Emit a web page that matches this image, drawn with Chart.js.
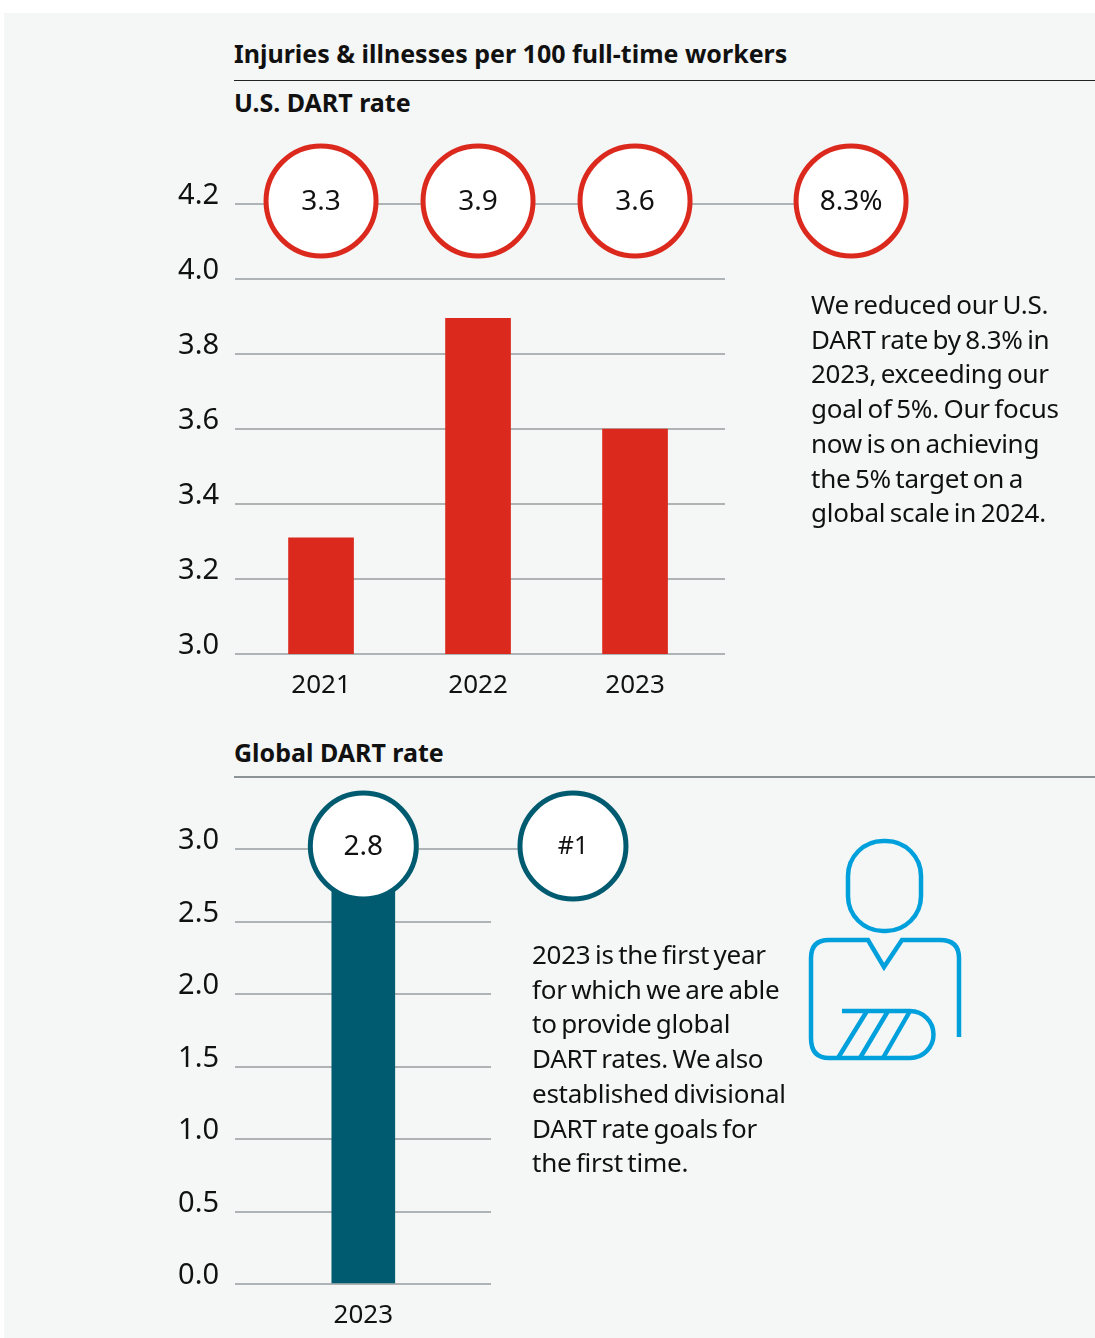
<!DOCTYPE html>
<html>
<head>
<meta charset="utf-8">
<script src="https://cdn.jsdelivr.net/npm/chart.js@4"></script>
<style>
  html, body { margin: 0; padding: 0; background: #fff; }
  body { width: 1095px; height: 1338px; position: relative; overflow: hidden; font-family: "Noto Sans", sans-serif; color: #111; }
  #panel { position: absolute; left: 4px; top: 13px; width: 1091px; height: 1325px; background: #f5f7f6; }
  canvas { position: absolute; left: 0; }
  .head { position: absolute; left: 234px; font-weight: 700; font-size: 25px; line-height: 30px; white-space: nowrap; }
  .rule { position: absolute; left: 234px; right: 0; }
  .note { position: absolute; font-size: 26px; line-height: 34.7px; letter-spacing: -0.25px; word-spacing: -2px; white-space: nowrap; }
  #icon { position: absolute; left: 790px; top: 820px; }
</style>
</head>
<body>
<div id="panel"></div>
<canvas id="usChart" width="1095" height="600" style="top:130px"></canvas>
<canvas id="globalChart" width="1095" height="558" style="top:780px"></canvas>

<div class="head" style="top:38px">Injuries &amp; illnesses per 100 full-time workers</div>
<div class="rule" style="top:80px;height:1px;background:#222"></div>
<div class="head" style="top:87px">U.S. DART rate</div>
<div class="head" style="top:737px">Global DART rate</div>
<div class="rule" style="top:776px;height:1.5px;background:#8d9496"></div>

<div class="note" style="left:811px;top:287px">We reduced our U.S.<br>DART rate by 8.3% in<br>2023, exceeding our<br>goal of 5%. Our focus<br>now is on achieving<br>the 5% target on a<br>global scale in 2024.</div>
<div class="note" style="left:532px;top:937px">2023 is the first year<br>for which we are able<br>to provide global<br>DART rates. We also<br>established divisional<br>DART rate goals for<br>the first time.</div>

<svg id="icon" width="190" height="260" viewBox="790 820 190 260" fill="none" stroke="#00a0dc" stroke-width="4.5">
  <rect x="848" y="841" width="73" height="90" rx="35" ry="35"/>
  <path d="M959 1037V958Q959 940 940 940H902L884 967L868 940H829Q811 940 811 958V1038Q811 1058 829 1058H910A23.5 23.5 0 0 0 910 1011H842"/>
  <path d="M867 1011L838 1058M888 1011L860 1058M910 1011L883 1058"/>
</svg>

<script>
const usYears = [2021, 2022, 2023];
const usRates = [3.31, 3.895, 3.6];
const usBadges = ['3.3', '3.9', '3.6', '8.3%'];
const usBadgeX = [2021, 2022, 2023, 2024.376];
const usTicks = [3.0, 4.2, 0.2];

const globalYears = [2023];
const globalRates = [2.8];
const globalBadges = ['2.8', '#1'];
const globalBadgeX = [2023, 2024];
const globalTicks = [0, 3, 0.5];

const FONT = '"Noto Sans", sans-serif';
const RED = '#dc291e';
const TEAL = '#005b70';
const GRID = '#aeb4b5';

// writes the value inside each round badge
const badgeText = {
  id: 'badgeText',
  afterDatasetsDraw(chart, args, opts) {
    const { ctx, chartArea } = chart;
    const meta = chart.getDatasetMeta(2);
    ctx.save();
    ctx.fillStyle = '#111';
    ctx.textAlign = 'center';
    ctx.textBaseline = 'middle';
    meta.data.forEach((pt, i) => {
      // chart.js skips points outside the chart area, so the last badge is drawn here
      if (pt.x > chartArea.right) {
        pt.draw(ctx);
      }
      const txt = opts.labels[i];
      ctx.fillStyle = '#111';
      ctx.font = (txt[0] === '#' ? 25 : 28) + 'px ' + FONT;
      ctx.fillText(txt, pt.x, pt.y + 1);
    });
    ctx.restore();
  }
};

function makeChart(id, cfg) {
  const [yMin, yMax, yStep] = cfg.yTicks;
  return new Chart(document.getElementById(id), {
    data: {
      datasets: [
        {
          type: 'bar',
          data: cfg.years.map((y, i) => ({ x: y, y: cfg.rates[i] })),
          backgroundColor: cfg.color,
          barThickness: cfg.barWidth,
          order: 3
        },
        {
          // grey connector running behind the badges
          type: 'line',
          data: [{ x: cfg.xMin, y: yMax }, { x: cfg.badgeX[cfg.badgeX.length - 1], y: yMax }],
          borderColor: GRID,
          borderWidth: 2,
          pointRadius: 0,
          clip: false,
          order: 2
        },
        {
          type: 'line',
          data: cfg.badgeX.map(x => ({ x: x, y: cfg.badgeY })),
          showLine: false,
          pointRadius: cfg.radius,
          pointBorderWidth: 5,
          pointBorderColor: cfg.color,
          pointBackgroundColor: '#fff',
          clip: false,
          order: 1
        }
      ]
    },
    options: {
      responsive: false,
      animation: false,
      events: [],
      layout: { autoPadding: false, padding: { top: cfg.top, right: cfg.right, left: 0, bottom: 0 } },
      plugins: { legend: { display: false }, tooltip: { enabled: false }, badgeText: { labels: cfg.badges } },
      scales: {
        x: {
          type: 'linear',
          offset: false,
          min: cfg.xMin,
          max: cfg.xMax,
          border: { display: false },
          grid: { display: false },
          afterFit(s) { s.height = cfg.bottom; },
          ticks: {
            stepSize: 1,
            includeBounds: false,
            autoSkip: false,
            maxRotation: 0,
            padding: 8,
            color: '#111',
            font: { family: FONT, size: 26 },
            callback: v => String(v)
          }
        },
        y: {
          min: yMin,
          max: yMax,
          border: { display: false },
          grid: { color: GRID, lineWidth: 2, drawTicks: false },
          afterFit(s) { s.width = 235; },
          ticks: {
            stepSize: yStep,
            padding: 16,
            labelOffset: -8,
            color: '#111',
            font: { family: FONT, size: 29 },
            callback: v => v.toFixed(1)
          }
        }
      }
    },
    plugins: [badgeText]
  });
}

makeChart('usChart', {
  years: usYears, rates: usRates, badges: usBadges, badgeX: usBadgeX, yTicks: usTicks,
  color: RED, barWidth: 65, radius: 55, badgeY: 4.208,
  xMin: 2020.452, xMax: 2023.573, top: 74, right: 370, bottom: 76
});

makeChart('globalChart', {
  years: globalYears, rates: globalRates, badges: globalBadges, badgeX: globalBadgeX, yTicks: globalTicks,
  color: TEAL, barWidth: 63, radius: 53, badgeY: 3.02,
  xMin: 2022.388, xMax: 2023.609, top: 69, right: 604, bottom: 54
});
</script>
</body>
</html>
